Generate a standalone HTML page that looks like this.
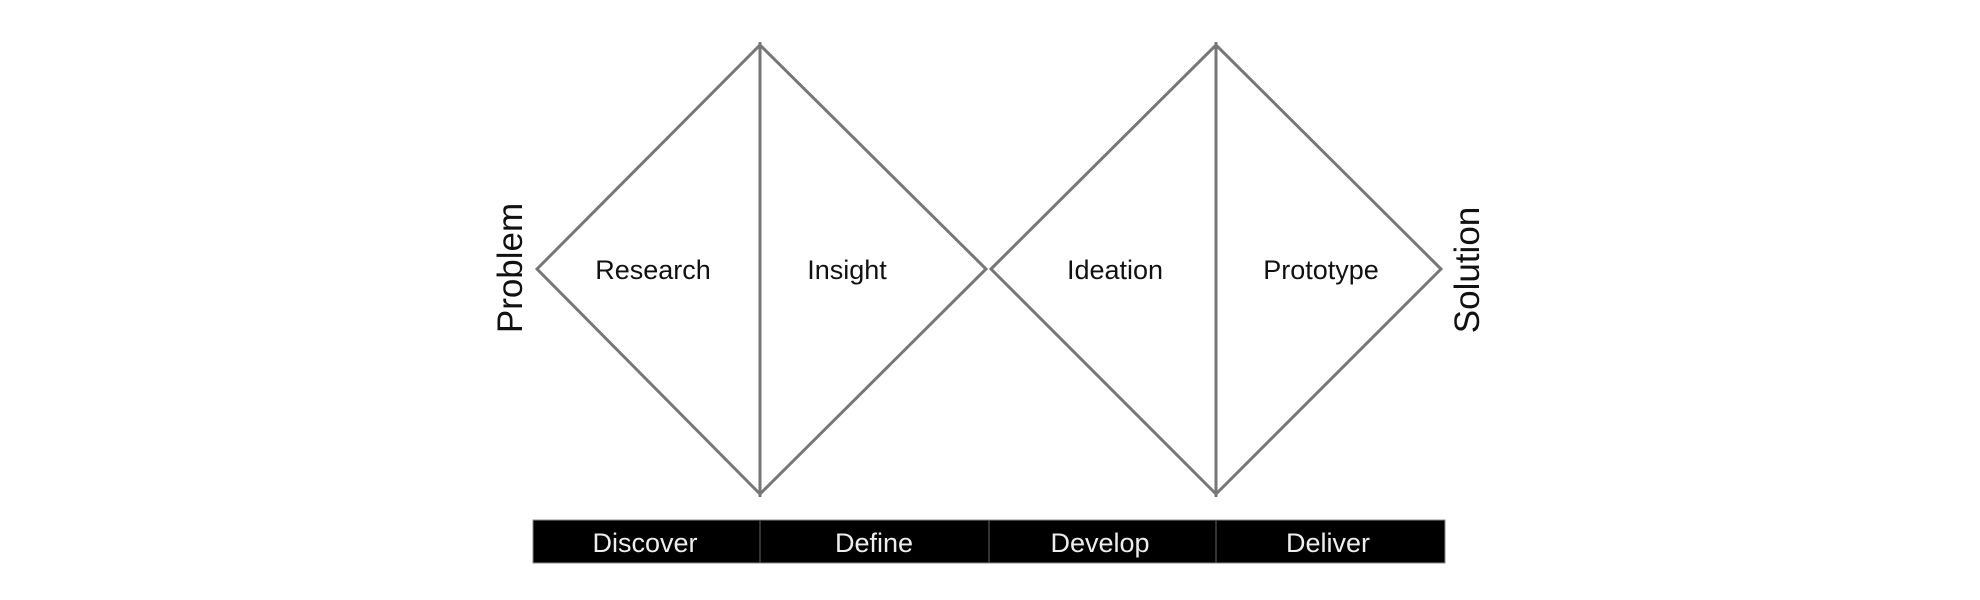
<!DOCTYPE html>
<html><head><style>
html,body{margin:0;padding:0;background:#fff;}
svg{display:block;}
text{font-family:"Liberation Sans",sans-serif;}
</style></head><body>
<svg width="1980" height="600" viewBox="0 0 1980 600" xmlns="http://www.w3.org/2000/svg">
<g fill="none" stroke="#777" stroke-width="3" stroke-linejoin="miter">
<polygon points="537,269 760,45 986,269 760,494"/>
<polygon points="991,269 1216,45 1441,269 1216,494"/>
<line x1="760" y1="42" x2="760" y2="497"/>
<line x1="1216" y1="42" x2="1216" y2="497"/>
</g>
<g font-size="27" fill="#111" text-anchor="middle">
<text x="653" y="279">Research</text>
<text x="847" y="279">Insight</text>
<text x="1115" y="279">Ideation</text>
<text x="1321" y="279">Prototype</text>
</g>
<text x="0" y="0" font-size="35" fill="#111" text-anchor="middle" transform="translate(522,268) rotate(-90)">Problem</text>
<text x="0" y="0" font-size="35" fill="#111" text-anchor="middle" transform="translate(1479,270) rotate(-90)">Solution</text>
<rect x="533" y="520" width="912" height="43" fill="#000" stroke="#888" stroke-width="1"/>
<g stroke="#666" stroke-width="1">
<line x1="760" y1="520" x2="760" y2="563"/>
<line x1="989" y1="520" x2="989" y2="563"/>
<line x1="1216" y1="520" x2="1216" y2="563"/>
</g>
<g font-size="27" fill="#eee" text-anchor="middle">
<text x="645" y="552">Discover</text>
<text x="874" y="552">Define</text>
<text x="1100" y="552">Develop</text>
<text x="1328" y="552">Deliver</text>
</g>
</svg>
</body></html>
